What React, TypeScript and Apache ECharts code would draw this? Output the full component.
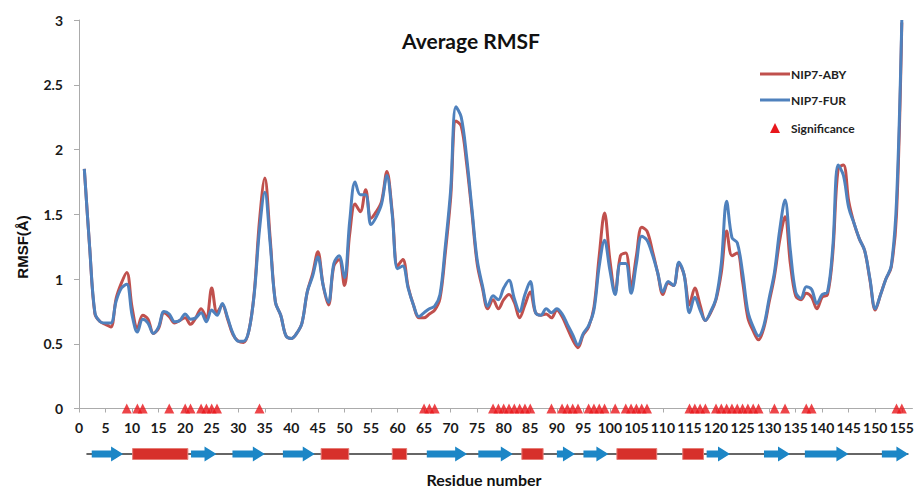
import React, { useEffect, useRef } from "react";
import * as echarts from "echarts";

// Residue numbers 1..155 (x values)
const residueStart = 1;

// Average RMSF, NIP7-ABY (red)
const abyRMSF = [
  1.85, 1.25, 0.73, 0.67, 0.65, 0.63, 0.85, 0.97, 1.05, 0.78,
  0.62, 0.72, 0.69, 0.58, 0.62, 0.74, 0.71, 0.66, 0.68, 0.70,
  0.65, 0.70, 0.77, 0.70, 0.93, 0.74, 0.80, 0.69, 0.57, 0.52,
  0.51, 0.60, 0.89, 1.45, 1.78, 1.32, 0.82, 0.72, 0.56, 0.54,
  0.58, 0.66, 0.90, 1.04, 1.21, 0.95, 0.80, 1.10, 1.15, 0.95,
  1.35, 1.58, 1.52, 1.69, 1.47, 1.52, 1.60, 1.83, 1.52, 1.10,
  1.15, 0.94, 0.80, 0.70, 0.70, 0.73, 0.76, 0.85, 1.20, 1.62,
  2.22, 2.18, 1.90, 1.52, 1.12, 0.93, 0.77, 0.84, 0.77, 0.84,
  0.88, 0.82, 0.70, 0.80, 0.90, 0.74, 0.72, 0.73, 0.70, 0.76,
  0.71, 0.62, 0.53, 0.47, 0.57, 0.63, 0.78, 1.18, 1.51, 1.15,
  0.90, 1.18, 1.20, 0.94, 1.18, 1.40, 1.37, 1.22, 1.05, 0.88,
  0.97, 0.95, 1.12, 1.03, 0.80, 0.93, 0.80, 0.68, 0.74, 0.84,
  1.05, 1.37, 1.18, 1.20, 0.98, 0.70, 0.60, 0.53, 0.62, 0.82,
  1.02, 1.30, 1.48, 1.12, 0.87, 0.84, 0.89, 0.86, 0.77, 0.86,
  0.88, 1.20, 1.85, 1.88, 1.60, 1.43, 1.31, 1.22, 0.99, 0.76,
  0.88, 1.00, 1.09, 1.50, 2.98,
];

// Average RMSF, NIP7-FUR (blue)
const furRMSF = [
  1.85, 1.25, 0.74, 0.67, 0.66, 0.66, 0.83, 0.93, 0.96, 0.72,
  0.59, 0.69, 0.66, 0.58, 0.63, 0.75, 0.73, 0.67, 0.68, 0.73,
  0.69, 0.70, 0.74, 0.67, 0.76, 0.72, 0.81, 0.70, 0.58, 0.52,
  0.52, 0.60, 0.88, 1.38, 1.67, 1.28, 0.82, 0.72, 0.56, 0.54,
  0.58, 0.66, 0.90, 1.02, 1.17, 0.95, 0.82, 1.12, 1.18, 1.01,
  1.45, 1.75, 1.65, 1.65, 1.42, 1.48, 1.58, 1.80, 1.50, 1.08,
  1.10, 0.93, 0.80, 0.71, 0.74, 0.77, 0.79, 0.88, 1.25, 1.68,
  2.33, 2.25, 1.95, 1.55, 1.15, 0.95, 0.79, 0.87, 0.84, 0.93,
  0.99, 0.85, 0.75, 0.88, 0.98, 0.74, 0.72, 0.77, 0.74, 0.77,
  0.73, 0.65, 0.57, 0.49, 0.58, 0.64, 0.76, 1.10, 1.30, 1.07,
  0.88, 1.12, 1.12, 0.89, 1.12, 1.33, 1.30, 1.19, 1.05, 0.90,
  0.98, 0.95, 1.13, 1.03, 0.74, 0.86, 0.76, 0.68, 0.75, 0.85,
  1.12, 1.60, 1.32, 1.28, 1.05, 0.75, 0.63, 0.56, 0.64, 0.85,
  1.05, 1.38, 1.61, 1.22, 0.90, 0.85, 0.94, 0.92, 0.81, 0.88,
  0.90, 1.25, 1.88, 1.80, 1.55, 1.43, 1.31, 1.22, 1.00, 0.77,
  0.88, 1.00, 1.10, 1.60, 3.00,
];

// Residues with significant difference (drawn at RMSF = 0)
const significantResidues = [
  9, 11, 12, 17, 20, 21, 23, 24, 25, 26, 34, 65, 66, 67,
  78, 79, 80, 81, 82, 83, 84, 85, 89, 91, 92, 93, 94, 96, 97, 98, 99, 101,
  103, 104, 105, 106, 107, 115, 116, 117, 118,
  120, 121, 122, 123, 124, 125, 126, 127, 128, 131, 133, 137, 138, 154, 155,
];

// Secondary structure (residue ranges)
const strandRanges: [number, number][] = [
  [2.4, 8.3], [21.1, 25.9], [28.9, 35.0], [38.4, 44.4], [65.5, 73.1],
  [75.2, 81.7], [90.0, 93.4], [95.0, 99.7], [118.2, 122.6], [129.0, 133.9],
  [136.7, 144.9], [151.2, 156.2],
];
const helixRanges: [number, number][] = [
  [10.1, 20.5], [45.6, 50.8], [59.0, 61.7], [83.4, 87.4], [101.3, 108.8], [113.7, 117.6],
];
const structureSpan: [number, number] = [1.4, 156.2];

// Axis ranges
const xRange: [number, number] = [0, 157];
const xStep = 5;
const yRange: [number, number] = [0, 3];
const yStep = 0.5;

const seriesNames = ["NIP7-ABY", "NIP7-FUR", "Significance"];

const RED = "#c0504d";
const BLUE = "#4f81bd";
const TRI = "#e8171c";
const FONT = "Lato";

export default function App() {
  const ref = useRef<HTMLDivElement>(null);

  useEffect(() => {
    if (!ref.current) return;
    const chart = echarts.init(ref.current, null, { renderer: "svg" });

    const abyData = abyRMSF.map((v, i) => [residueStart + i, v]);
    const furData = furRMSF.map((v, i) => [residueStart + i, v]);
    const sigData = significantResidues.map((r) => [r, 0]);
    const structData = [
      ...strandRanges.map((r) => [r[0], r[1], 0]),
      ...helixRanges.map((r) => [r[0], r[1], 1]),
    ];

    const axisLineColor = "#ababab";
    const labelStyle = { color: "#1a1a1a", fontWeight: "bold" as const, fontSize: 14, fontFamily: FONT };
    const legendText = (text: string, y: number) => ({
      type: "text",
      x: 791,
      y,
      style: {
        text,
        fontFamily: FONT,
        fontWeight: "bold",
        fontSize: 12,
        fill: "#222",
        textAlign: "left",
        textVerticalAlign: "middle",
      },
    });

    chart.setOption({
      animation: false,
      backgroundColor: "#ffffff",
      title: {
        text: "Average RMSF",
        left: 397,
        top: 25,
        textStyle: { fontFamily: FONT, fontWeight: "bold", fontSize: 21, color: "#111" },
      },
      grid: [
        { left: 79, right: 917 - (79 + 157 * 5.31), top: 20, bottom: 80.5, containLabel: false },
        { left: 79, right: 917 - (79 + 157 * 5.31), top: 446, height: 16, containLabel: false },
      ],
      xAxis: [
        {
          type: "value",
          gridIndex: 0,
          min: xRange[0],
          max: xRange[1],
          interval: xStep,
          axisLine: { show: true, onZero: false, lineStyle: { color: axisLineColor, width: 1 } },
          axisTick: { show: true, length: 4, lineStyle: { color: axisLineColor } },
          splitLine: { show: false },
          axisLabel: { ...labelStyle, margin: 12, showMaxLabel: false },
        },
        { type: "value", gridIndex: 1, min: xRange[0], max: xRange[1], show: false },
      ],
      yAxis: [
        {
          type: "value",
          gridIndex: 0,
          min: yRange[0],
          max: yRange[1],
          interval: yStep,
          axisLine: { show: true, lineStyle: { color: axisLineColor, width: 1 } },
          axisTick: { show: true, length: 5, lineStyle: { color: axisLineColor } },
          splitLine: { show: false },
          axisLabel: { ...labelStyle, margin: 16 },
        },
        { type: "value", gridIndex: 1, min: 0, max: 1, show: false },
      ],
      graphic: [
        {
          type: "text",
          x: 22,
          y: 247,
          rotation: Math.PI / 2,
          style: {
            text: "RMSF(Å)",
            fontFamily: "Liberation Sans",
            fontWeight: "bold",
            fontSize: 15,
            fill: "#111",
            textAlign: "center",
            textVerticalAlign: "middle",
          },
        },
        {
          type: "text",
          x: 484,
          y: 479,
          style: {
            text: "Residue number",
            fontFamily: FONT,
            fontWeight: "bold",
            fontSize: 16,
            fill: "#111",
            textAlign: "center",
            textVerticalAlign: "middle",
          },
        },
        // Legend
        { type: "line", shape: { x1: 760, y1: 74, x2: 790, y2: 74 }, style: { stroke: RED, lineWidth: 3 } },
        legendText(seriesNames[0], 74),
        { type: "line", shape: { x1: 760, y1: 100, x2: 790, y2: 100 }, style: { stroke: BLUE, lineWidth: 3 } },
        legendText(seriesNames[1], 100),
        {
          type: "polygon",
          shape: { points: [[770, 133], [780, 133], [775, 123]] },
          style: { fill: TRI },
        },
        legendText(seriesNames[2], 128),
      ],
      series: [
        {
          name: seriesNames[0],
          type: "line",
          xAxisIndex: 0,
          yAxisIndex: 0,
          data: abyData,
          smooth: 0.35,
          symbol: "none",
          lineStyle: { color: RED, width: 3 },
          itemStyle: { color: RED },
          z: 2,
        },
        {
          name: seriesNames[1],
          type: "line",
          xAxisIndex: 0,
          yAxisIndex: 0,
          data: furData,
          smooth: 0.35,
          symbol: "none",
          lineStyle: { color: BLUE, width: 3 },
          itemStyle: { color: BLUE },
          z: 3,
        },
        {
          name: seriesNames[2],
          type: "scatter",
          xAxisIndex: 0,
          yAxisIndex: 0,
          data: sigData,
          symbol: "triangle",
          symbolSize: [10, 10],
          itemStyle: { color: TRI },
          clip: false,
          z: 4,
        },
        {
          name: "structure-line",
          type: "line",
          xAxisIndex: 1,
          yAxisIndex: 1,
          data: [[structureSpan[0], 0.5], [structureSpan[1], 0.5]],
          symbol: "none",
          lineStyle: { color: "#333", width: 1.3 },
          silent: true,
          z: 1,
        },
        {
          name: "structure",
          type: "custom",
          xAxisIndex: 1,
          yAxisIndex: 1,
          data: structData,
          encode: { x: [0, 1], y: 2 },
          silent: true,
          z: 2,
          renderItem: (params: any, api: any) => {
            const kind = api.value(2);
            const s = api.coord([api.value(0), 0.5]);
            const e = api.coord([api.value(1), 0.5]);
            const cy = s[1];
            if (kind === 1) {
              return {
                type: "rect",
                shape: { x: s[0], y: cy - 5.5, width: e[0] - s[0], height: 11 },
                style: { fill: "#d7302b", stroke: "#e67d76", lineWidth: 1 },
              };
            }
            const headLen = 12;
            const shaftH = 7;
            const headH = 15;
            const hx = e[0] - headLen;
            return {
              type: "polygon",
              shape: {
                points: [
                  [s[0], cy - shaftH / 2],
                  [hx, cy - shaftH / 2],
                  [hx, cy - headH / 2],
                  [e[0], cy],
                  [hx, cy + headH / 2],
                  [hx, cy + shaftH / 2],
                  [s[0], cy + shaftH / 2],
                ],
              },
              style: { fill: "#1c86c6" },
            };
          },
        },
      ],
    });

    return () => chart.dispose();
  }, []);

  return (
    <div
      ref={ref}
      style={{ position: "fixed", left: 0, top: 0, width: "917px", height: "489px", background: "#fff" }}
    />
  );
}
